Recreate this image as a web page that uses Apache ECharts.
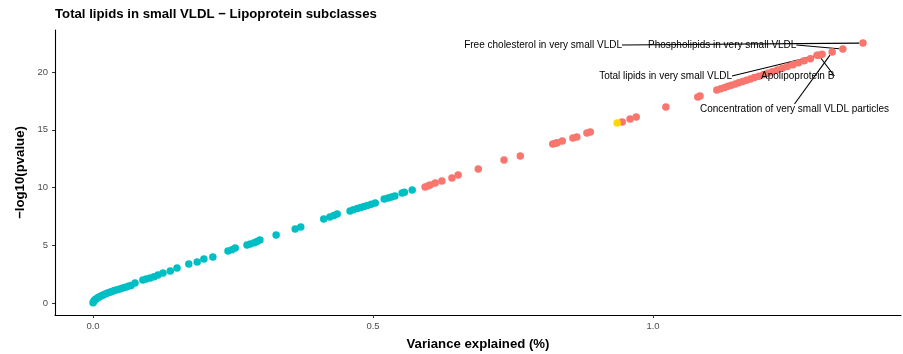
<!DOCTYPE html>
<html>
<head>
<meta charset="utf-8">
<script src="https://cdn.jsdelivr.net/npm/echarts@6/dist/echarts.min.js"></script>
<style>html,body{margin:0;padding:0;background:#fff}#c{width:903px;height:354px}</style>
</head>
<body>
<div id="c"></div>
<script>
// ---- data (variance explained %, -log10 p) ----
var tealX = [0.000,0.001,0.002,0.003,0.005,0.007,0.009,0.012,0.015,0.018,0.022,0.026,0.030,0.034,0.038,0.043,0.048,0.053,0.058,0.063,0.068,0.075,0.089,0.095,0.102,0.109,0.116,0.125,0.138,0.150,0.171,0.186,0.198,0.214,0.241,0.248,0.254,0.275,0.281,0.288,0.293,0.298,0.327,0.361,0.371,0.412,0.423,0.430,0.436,0.459,0.465,0.472,0.478,0.484,0.490,0.497,0.504,0.520,0.527,0.533,0.539,0.552,0.556,0.570];
var tealY = [0.02,0.10,0.18,0.25,0.33,0.40,0.47,0.55,0.62,0.70,0.78,0.86,0.93,1.00,1.08,1.15,1.22,1.30,1.37,1.44,1.52,1.73,1.99,2.07,2.16,2.28,2.42,2.60,2.77,3.03,3.38,3.55,3.81,3.98,4.50,4.62,4.76,5.02,5.10,5.22,5.32,5.45,5.89,6.41,6.58,7.27,7.45,7.57,7.71,7.97,8.07,8.18,8.28,8.36,8.45,8.55,8.66,9.00,9.10,9.18,9.26,9.52,9.58,9.78];
var salmonX = [0.593,0.598,0.602,0.611,0.623,0.641,0.652,0.688,0.734,0.763,0.821,0.826,0.829,0.838,0.857,0.864,0.882,0.888,0.945,0.959,0.970,1.023,1.080,1.084,1.114,1.121,1.128,1.134,1.140,1.147,1.153,1.160,1.167,1.174,1.181,1.189,1.197,1.205,1.213,1.222,1.231,1.240,1.250,1.260,1.270,1.281,1.293];
var salmonY = [10.04,10.13,10.22,10.39,10.56,10.82,11.08,11.60,12.38,12.73,13.77,13.83,13.88,14.03,14.29,14.37,14.72,14.81,15.67,15.93,16.10,16.97,17.84,17.92,18.44,18.55,18.66,18.76,18.86,18.97,19.07,19.18,19.29,19.40,19.52,19.64,19.77,19.90,20.03,20.17,20.32,20.47,20.63,20.80,20.97,21.15,21.45];
var goldX = [0.936];
var goldY = [15.58];
var labelNames = ["Free cholesterol in very small VLDL","Phospholipids in very small VLDL","Total lipids in very small VLDL","Apolipoprotein B","Concentration of very small VLDL particles"];
var labelX = [1.375,1.339,1.302,1.296,1.320];
var labelY = [22.51,21.99,21.55,21.45,21.73];
var xTicks = [0, 0.5, 1.0];
var yTicks = [0, 5, 10, 15, 20];

// ---- label placement (pixels; style only) ----
var labelPos = [
  {x: 622, y: 45, align: 'right'},
  {x: 648, y: 45, align: 'left'},
  {x: 732, y: 76, align: 'right'},
  {x: 761, y: 76, align: 'left'},
  {x: 700, y: 109, align: 'left'}
];

function zip(a, b) { return a.map(function (v, i) { return [v, b[i]]; }); }
var FONT = '"Liberation Sans", Arial, sans-serif';
var TEAL = '#00BFC4', SALMON = '#F8766D', GOLD = '#FFD700';
var SZ = 7.5;

var chart = echarts.init(document.getElementById('c'), null, {renderer: 'canvas'});
chart.setOption({
  animation: false,
  backgroundColor: '#ffffff',
  textStyle: {fontFamily: FONT},
  title: {
    text: 'Total lipids in small VLDL \u2212 Lipoprotein subclasses',
    left: 55, top: 8, padding: 0,
    textStyle: {fontFamily: FONT, fontSize: 13.2, fontWeight: 'bold', color: '#000'}
  },
  grid: {left: 55, right: 2, top: 30, bottom: 39, containLabel: false, outerBoundsMode: 'none'},
  xAxis: {
    type: 'value', min: -0.0679, max: 1.4429,
    name: 'Variance explained (%)', nameLocation: 'middle', nameGap: 23,
    nameTextStyle: {fontFamily: FONT, fontSize: 13.2, fontWeight: 'bold', color: '#000'},
    axisLine: {show: true, onZero: false, lineStyle: {color: '#000', width: 1.1}},
    axisTick: {show: true, length: 3, customValues: xTicks, lineStyle: {color: '#333'}},
    axisLabel: {customValues: xTicks, margin: 6, fontSize: 9.5, color: '#4D4D4D', fontFamily: FONT,
      formatter: function (v) { return v.toFixed(1); }},
    splitLine: {show: false}
  },
  yAxis: {
    type: 'value', min: -1.039, max: 23.64,
    name: '\u2212log10(pvalue)', nameLocation: 'middle', nameGap: 18, nameRotate: 90,
    nameTextStyle: {fontFamily: FONT, fontSize: 13.2, fontWeight: 'bold', color: '#000'},
    axisLine: {show: true, onZero: false, lineStyle: {color: '#000', width: 1.1}},
    axisTick: {show: true, length: 3, customValues: yTicks, lineStyle: {color: '#333'}},
    axisLabel: {customValues: yTicks, margin: 7, fontSize: 9.5, color: '#4D4D4D', fontFamily: FONT},
    splitLine: {show: false}
  },
  series: [
    {type: 'scatter', data: zip(tealX, tealY), symbolSize: SZ, itemStyle: {color: TEAL, opacity: 1}, silent: true},
    {type: 'scatter', data: zip(salmonX, salmonY), symbolSize: SZ, itemStyle: {color: SALMON, opacity: 1}, silent: true},
    {type: 'scatter', data: zip(labelX, labelY).map(function (d, i) { return {value: d, name: labelNames[i]}; }),
      symbolSize: SZ, itemStyle: {color: SALMON, opacity: 1}, silent: true,
      label: {show: true, formatter: '{b}', fontFamily: FONT, fontSize: 10, color: '#000'},
      labelLine: {show: true, lineStyle: {color: '#000', width: 1.1}},
      labelLayout: function (p) {
        var L = labelPos[p.dataIndex];
        return {x: L.x, y: L.y, align: L.align, verticalAlign: 'middle', hideOverlap: false};
      }
    },
    {type: 'scatter', data: zip(goldX, goldY), symbolSize: SZ, itemStyle: {color: GOLD, opacity: 1}, silent: true}
  ]
});
</script>
</body>
</html>
